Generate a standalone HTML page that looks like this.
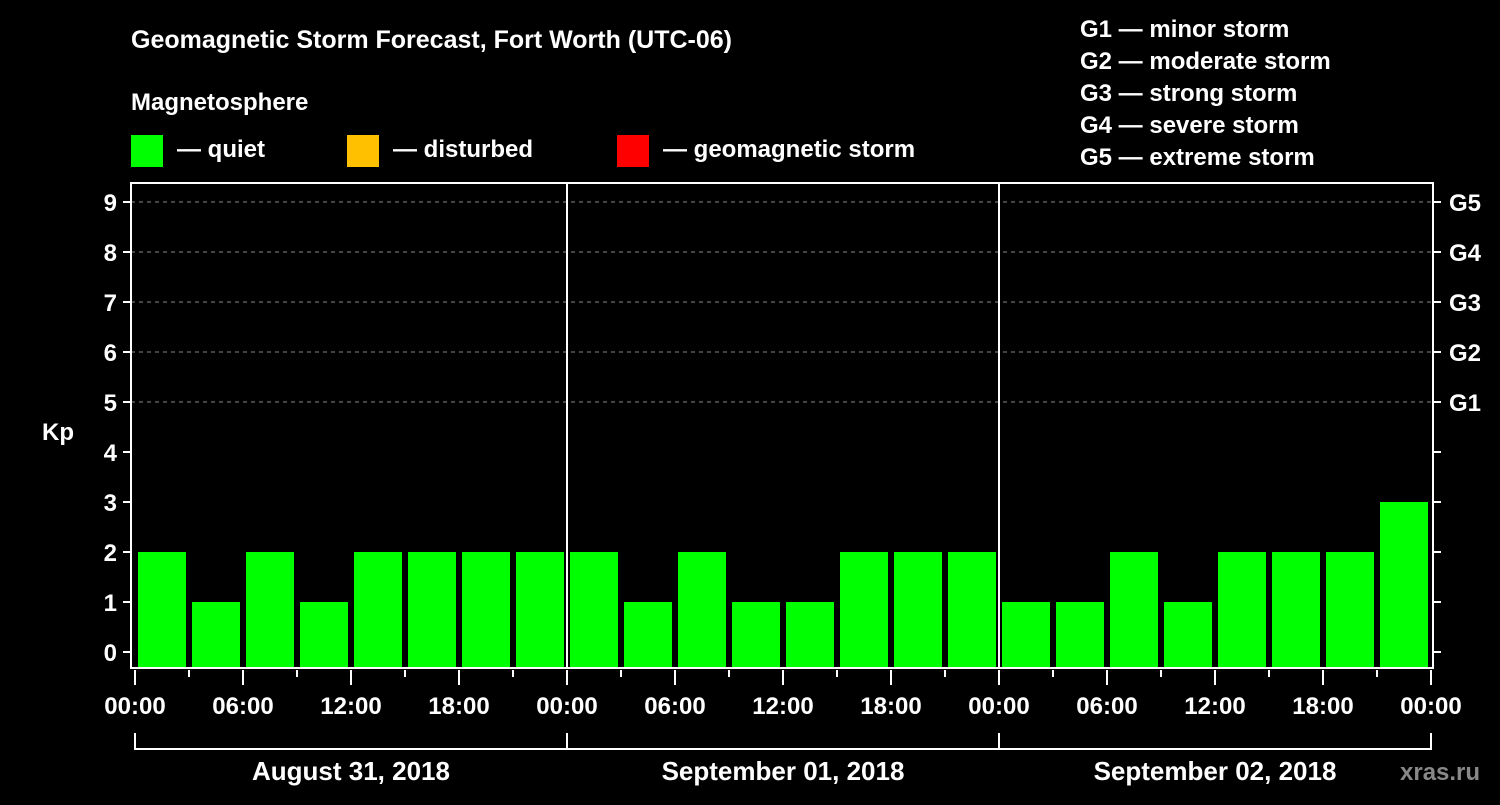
<!DOCTYPE html>
<html><head><meta charset="utf-8"><style>
html,body{margin:0;padding:0;background:#000;}
svg text{font-family:"Liberation Sans",Arial,sans-serif;font-weight:bold;fill:#fff;}
</style></head><body>
<svg id="chart" width="1500" height="800" viewBox="0 0 1500 800" xmlns="http://www.w3.org/2000/svg">
<rect width="1500" height="800" fill="#000"/>
<text x="131" y="48" font-size="25">Geomagnetic Storm Forecast, Fort Worth (UTC-06)</text>
<text x="131" y="110" font-size="24">Magnetosphere</text>
<g><rect x="131" y="135" width="32" height="32" fill="#00ff00"/><text x="177" y="157" font-size="24">— quiet</text></g>
<g><rect x="347" y="135" width="32" height="32" fill="#ffc000"/><text x="393" y="157" font-size="24">— disturbed</text></g>
<g><rect x="617" y="135" width="32" height="32" fill="#ff0000"/><text x="663" y="157" font-size="24">— geomagnetic storm</text></g>
<g font-size="24">
<text x="1080" y="37">G1 — minor storm</text>
<text x="1080" y="69">G2 — moderate storm</text>
<text x="1080" y="101">G3 — strong storm</text>
<text x="1080" y="133">G4 — severe storm</text>
<text x="1080" y="165">G5 — extreme storm</text>
</g>
<text x="42" y="440" font-size="24">Kp</text>
<text x="1400" y="780" font-size="24" fill="#888" style="fill:#888">xras.ru</text>
<g id="grid"></g><g id="bars"></g><g id="axes"></g>
</svg>
<script>
const days = ["August 31, 2018","September 01, 2018","September 02, 2018"];
const kpValues = [2,1,2,1,2,2,2,2, 2,1,2,1,1,2,2,2, 1,1,2,1,2,2,2,3];
const yTicks = [0,1,2,3,4,5,6,7,8,9];
const gLabels = ["G1","G2","G3","G4","G5"];
const hourLabels = ["00:00","06:00","12:00","18:00"];

const NS="http://www.w3.org/2000/svg";
const X0=135, HOUR=18, L=131, R=1433, T=183, B=668;
const x = h => X0 + h*HOUR;
const y = v => 652 - v*50;
function mk(tag, attrs, parent, txt){const e=document.createElementNS(NS,tag);for(const k in attrs)e.setAttribute(k,attrs[k]);if(txt!==undefined)e.textContent=txt;parent.appendChild(e);return e;}
const grid=document.getElementById('grid'), bars=document.getElementById('bars'), axes=document.getElementById('axes');

[5,6,7,8,9].forEach(v=>{const l=mk('line',{x1:L,x2:R,y1:y(v),y2:y(v),stroke:'#888','stroke-dasharray':'4,4','stroke-width':1},grid);

});

kpValues.forEach((v,i)=>{const c=v>=5?'#ff0000':(v>=4?'#ffc000':'#00ff00');
const r=mk('rect',{x:x(i*3)+3,y:y(v),width:48,height:B-y(v),fill:c},bars);

});

// frame
const fr=mk('rect',{x:L,y:T,width:R-L,height:B-T,fill:'none',stroke:'#fff','stroke-width':2},axes);


for(let d=1;d<days.length;d++){const l=mk('line',{x1:x(d*24),x2:x(d*24),y1:T,y2:B,stroke:'#fff','stroke-width':2},axes);

}

yTicks.forEach(v=>{mk('line',{x1:L-8,x2:L,y1:y(v),y2:y(v),stroke:'#fff','stroke-width':2},axes);
mk('line',{x1:R,x2:R+8,y1:y(v),y2:y(v),stroke:'#fff','stroke-width':2},axes);
const t=mk('text',{x:L-14,y:y(v)+9,'font-size':24,'text-anchor':'end'},axes,String(v));

});
gLabels.forEach((g,i)=>{const t=mk('text',{x:1449,y:y(5+i)+9,'font-size':24},axes,g);

});

for(let h=0;h<=days.length*24;h+=3){const major=h%6===0;
mk('line',{x1:x(h),x2:x(h),y1:B+2,y2:major?B+17:B+9,stroke:'#fff','stroke-width':2},axes);
if(major){const t=mk('text',{x:x(h),y:714,'font-size':24,'text-anchor':'middle'},axes,hourLabels[(h/6)%4]);

}}

days.forEach((d,i)=>{const a=x(i*24),b=x(i*24+24);
mk('path',{d:`M${a} 733 V749 H${b}`+(i===days.length-1?' V733':''),stroke:'#fff','stroke-width':2,fill:'none'},axes);
const t=mk('text',{x:(a+b)/2,y:780,'font-size':26,'text-anchor':'middle'},axes,d);

});
</script>
</body></html>
